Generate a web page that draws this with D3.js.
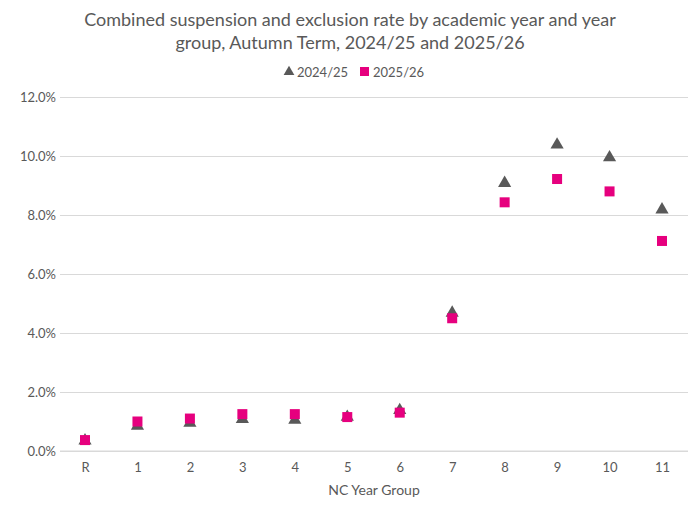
<!DOCTYPE html>
<html>
<head>
<meta charset="utf-8">
<script src="https://cdn.jsdelivr.net/npm/d3@7"></script>
<style>body{margin:0;background:#fff;font-family:Lato,"Open Sans",sans-serif;}</style>
</head>
<body>
<script>
var groups = ["R","1","2","3","4","5","6","7","8","9","10","11"];
var rate2425 = [0.35,0.85,0.95,1.08,1.05,1.15,1.38,4.68,9.08,10.38,9.95,8.18];
var rate2526 = [0.37,1.0,1.1,1.25,1.25,1.15,1.3,4.5,8.43,9.22,8.8,7.12];
var yTicks = [0,2,4,6,8,10,12];

var w = 700, h = 510;
var svg = d3.select("body").append("svg").attr("width", w).attr("height", h);

var x = d3.scalePoint().domain(groups).range([85, 662]);
var y = d3.scaleLinear().domain([0, 12]).range([451, 97]);

svg.append("text").attr("x", 350).attr("y", 26).attr("text-anchor", "middle")
   .attr("font-size", 18).attr("fill", "#595959").text("Combined suspension and exclusion rate by academic year and year");
svg.append("text").attr("x", 350).attr("y", 49).attr("text-anchor", "middle")
   .attr("font-size", 18).attr("fill", "#595959").text("group, Autumn Term, 2024/25 and 2025/26");

// legend
var lg = svg.append("g").attr("font-size", 13).attr("fill", "#595959");
lg.append("path").attr("d", d3.symbol(d3.symbolTriangle, 50)()).attr("transform", "translate(289,72)").attr("fill", "#595959");
lg.append("text").attr("x", 297).attr("y", 77).text("2024/25");
lg.append("rect").attr("x", 360).attr("y", 67).attr("width", 9).attr("height", 9).attr("fill", "#e6007e");
lg.append("text").attr("x", 373).attr("y", 77).text("2025/26");

// grid + y axis
var ya = svg.append("g").attr("transform", "translate(60,0)")
  .call(d3.axisLeft(y).tickValues(yTicks).tickSize(-628).tickFormat(function(d){return d.toFixed(1)+"%";}));
ya.select(".domain").remove();
ya.selectAll(".tick line").attr("stroke", "#d9d9d9");
ya.selectAll(".tick text").attr("x", -4).attr("font-size", 13).attr("fill", "#595959").attr("font-family", "Lato,'Open Sans',sans-serif");

var xa = svg.append("g").attr("transform", "translate(0,451)")
  .call(d3.axisBottom(x).tickSize(0).tickPadding(12));
xa.select(".domain").attr("d", "M60,0H688").attr("stroke", "#d9d9d9");
xa.selectAll(".tick text").attr("font-size", 13).attr("fill", "#595959").attr("font-family", "Lato,'Open Sans',sans-serif");
svg.append("text").attr("x", 374).attr("y", 495).attr("text-anchor", "middle")
   .attr("font-size", 14).attr("fill", "#595959").text("NC Year Group");

svg.selectAll(".tri").data(rate2425).enter().append("path")
   .attr("d", d3.symbol(d3.symbolTriangle, 75)())
   .attr("transform", function(d,i){return "translate("+x(groups[i])+","+y(d)+")";})
   .attr("fill", "#595959");
svg.selectAll(".sq").data(rate2526).enter().append("rect")
   .attr("x", function(d,i){return x(groups[i])-5;})
   .attr("y", function(d){return y(d)-5;})
   .attr("width", 10).attr("height", 10).attr("fill", "#e6007e");
</script>
</body>
</html>
